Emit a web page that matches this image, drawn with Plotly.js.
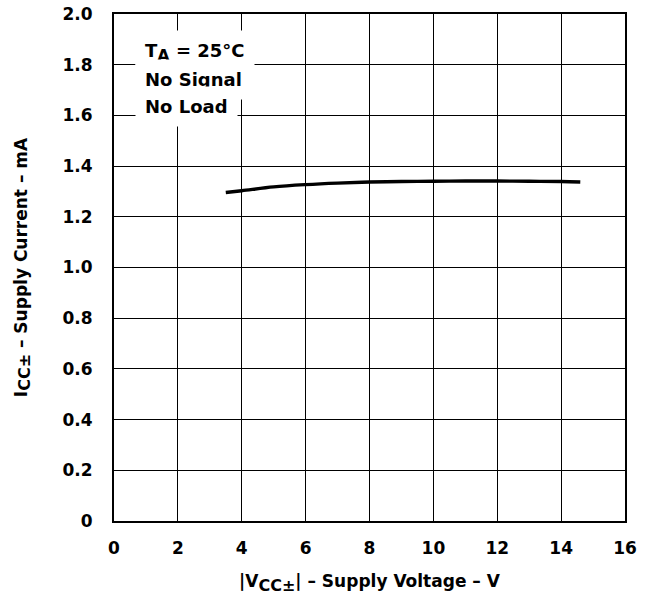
<!DOCTYPE html>
<html>
<head>
<meta charset="utf-8">
<script src="https://cdn.plot.ly/plotly-3.0.1.min.js"></script>
<style>
  html, body { margin: 0; padding: 0; background: #fff; }
  #chart { width: 650px; height: 595px; }
</style>
</head>
<body>
<div id="chart"></div>
<script>
// Supply current vs supply voltage, TA = 25°C, no signal, no load
const supplyVoltage = [3.5, 4, 5, 6, 7, 8, 9, 10, 11, 12, 13, 14, 14.6];
const supplyCurrent = [1.296, 1.303, 1.318, 1.327, 1.333, 1.337, 1.339, 1.340, 1.341, 1.341, 1.340, 1.339, 1.337];

const xTicks = [0, 2, 4, 6, 8, 10, 12, 14, 16];
const yTicks = [0, 0.2, 0.4, 0.6, 0.8, 1.0, 1.2, 1.4, 1.6, 1.8, 2.0];
const yTickText = ['0', '0.2', '0.4', '0.6', '0.8', '1.0', '1.2', '1.4', '1.6', '1.8', '2.0'];

const FONT = 'DejaVu Sans, Verdana, sans-serif';
const boldFont = (size) => ({ family: FONT, size: size, color: '#000', weight: 'bold' });

// subscripts are drawn nearly full size, just dropped below the baseline
const subSpan = (s, px) => '<sub><span style="font-size:' + px + 'px">' + s + '</span></sub>';

const noteLines = ['T' + subSpan('A', 16) + ' = 25°C', 'No Signal', 'No Load'];

const trace = {
  x: supplyVoltage,
  y: supplyCurrent,
  type: 'scatter',
  mode: 'lines',
  line: { color: '#000', width: 3.4, shape: 'spline' },
  hoverinfo: 'skip'
};

const axisCommon = {
  showgrid: true,
  gridcolor: '#000',
  gridwidth: 1,
  zeroline: false,
  showline: true,
  linecolor: '#000',
  linewidth: 2,
  mirror: true,
  ticks: '',
  tickfont: boldFont(17),
  fixedrange: true
};

// plot area spans 507 px vertically, starting 14 px from the top
const annotations = noteLines.map((txt, i) => ({
  xref: 'paper', yref: 'paper',
  x: 0.041, y: 1 - (39 + i * 26.5) / 507,
  xanchor: 'left', yanchor: 'middle',
  text: txt,
  showarrow: false,
  align: 'left',
  bgcolor: '#fff',
  borderpad: 9,
  font: boldFont(18)
}));

const layout = {
  width: 650,
  height: 595,
  margin: { l: 114, r: 25, t: 14, b: 74 },
  paper_bgcolor: '#fff',
  plot_bgcolor: '#fff',
  showlegend: false,
  xaxis: Object.assign({}, axisCommon, {
    range: [0, 16],
    tickvals: xTicks,
    ticktext: xTicks.map(String),
    ticklabelstandoff: 11,
    title: {
      text: '|V' + subSpan('CC±', 16) + '| – Supply Voltage – V',
      font: boldFont(17),
      standoff: 20
    }
  }),
  yaxis: Object.assign({}, axisCommon, {
    range: [0, 2.0],
    tickvals: yTicks,
    ticktext: yTickText,
    ticklabelstandoff: 16,
    title: {
      text: 'I' + subSpan('CC±', 16) + ' – Supply Current – mA',
      font: boldFont(17),
      standoff: 31
    }
  }),
  annotations: annotations
};

Plotly.newPlot('chart', [trace], layout, { displayModeBar: false, staticPlot: true });
</script>
</body>
</html>
